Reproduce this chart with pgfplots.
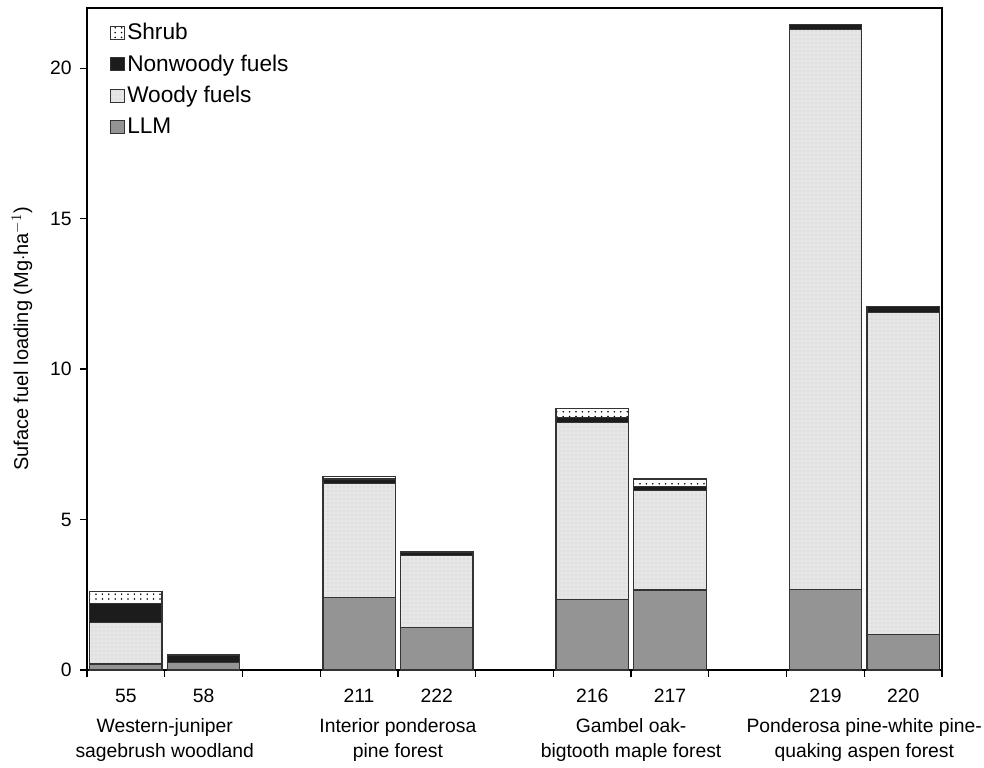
\documentclass[border=0pt]{standalone}
\usepackage{pgfplots}
\pgfplotsset{compat=1.18}
\usepackage{fontspec}
\setmainfont{Liberation Sans}
\usetikzlibrary{patterns}
\pgfdeclarepatternformonly{sparsedots}{\pgfpoint{-1pt}{-1pt}}{\pgfpoint{1pt}{1pt}}{\pgfpoint{4.8pt}{3.6pt}}{\pgfpathcircle{\pgfpointorigin}{0.65pt}\pgfusepath{fill}}
\definecolor{llm}{HTML}{949494}
\definecolor{woody}{HTML}{E6E6E6}
\definecolor{nonw}{HTML}{1C1C1C}
\definecolor{edge}{HTML}{333333}
\begin{document}
\begin{tikzpicture}[x=1pt,y=1pt]
\path[use as bounding box] (-65.25pt,-72.75pt) rectangle (672.75pt,502.5pt);
\begin{axis}[
  at={(0,0)}, anchor=south west,
  scale only axis, width=641.25pt, height=496.5pt,
  xmin=-0.5, xmax=10.5, ymin=0, ymax=22,
  ybar stacked, bar width=0.93,
  axis line style={black, line width=1.1pt},
  xtick={0,1,3,4,6,7,9,10},
  xticklabels={55,58,211,222,216,217,219,220},
  minor xtick={-0.5,0.5,...,10.5},
  major x tick style={draw=none},
  minor tick length=5pt,
  xtick pos=left, ytick pos=left,
  tick align=outside,
  ytick={0,5,10,15,20},
  major tick length=5pt,
  tick style={black, line width=0.9pt},
  ticklabel style={font=\fontsize{14.5}{17}\selectfont},
  /pgf/number format/assume math mode=true,
  xticklabel style={yshift=-6pt},
  yticklabel style={xshift=-3pt},
  ylabel={Suface fuel loading (Mg$\cdot$ha$^{-1}$)},
  ylabel style={font=\fontsize{15}{18}\selectfont, at={(axis description cs:-0.076,0.5)}, anchor=center},
  reverse legend,
  legend cell align=left,
  legend style={at={(0.024,0.985)}, anchor=north west, draw=none, fill=none,
    font=\fontsize{17}{20}\selectfont, row sep=5.8pt, inner sep=2pt},
  legend image code/.code={\draw[#1, draw=edge, line width=0.6pt] (-4pt,-5pt) rectangle (6pt,5pt);},
  clip=false,
]
\addplot[fill=llm, draw=edge, line width=0.9pt] coordinates {(0,0.20) (1,0.26) (3,2.40) (4,1.42) (6,2.33) (7,2.66) (9,2.68) (10,1.17)};
\addlegendentry{LLM}
\addplot[fill=woody, draw=edge, line width=0.9pt, postaction={pattern=dots, pattern color=black!22}] coordinates {(0,1.37) (1,0) (3,3.80) (4,2.39) (6,5.90) (7,3.30) (9,18.61) (10,10.70)};
\addlegendentry{Woody fuels}
\addplot[fill=nonw, draw=edge, line width=0.9pt] coordinates {(0,0.64) (1,0.24) (3,0.15) (4,0.11) (6,0.17) (7,0.13) (9,0.16) (10,0.20)};
\addlegendentry{Nonwoody fuels}
\addplot[fill=white, draw=edge, line width=0.9pt, postaction={pattern=sparsedots, pattern color=black}] coordinates {(0,0.41) (1,0) (3,0.07) (4,0) (6,0.29) (7,0.26) (9,0) (10,0)};
\addlegendentry{Shrub}
\node[align=center, anchor=north, yshift=-33pt, font=\fontsize{14.5}{18.75}\selectfont] at (axis cs:0.5,0) {Western-juniper\\sagebrush woodland};
\node[align=center, anchor=north, yshift=-33pt, font=\fontsize{14.5}{18.75}\selectfont] at (axis cs:3.5,0) {Interior ponderosa\\pine forest};
\node[align=center, anchor=north, yshift=-33pt, font=\fontsize{14.5}{18.75}\selectfont] at (axis cs:6.5,0) {Gambel oak-\\bigtooth maple forest};
\node[align=center, anchor=north, yshift=-33pt, font=\fontsize{14.5}{18.75}\selectfont] at (axis cs:9.5,0) {Ponderosa pine-white pine-\\quaking aspen forest};
\end{axis}
\end{tikzpicture}
\end{document}
